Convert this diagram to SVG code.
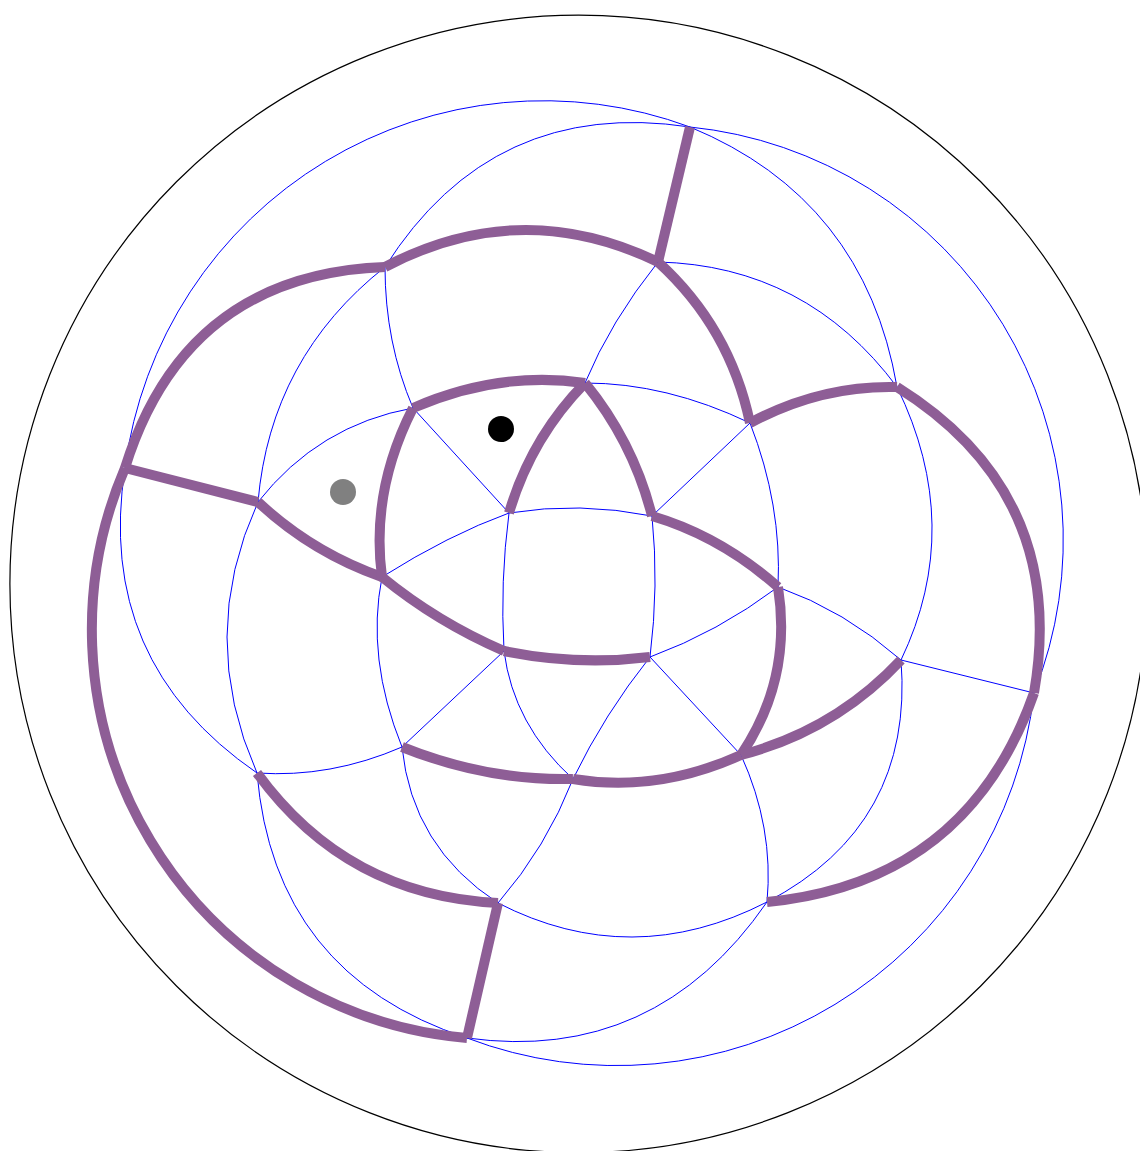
<svg xmlns="http://www.w3.org/2000/svg" width="1140" height="1151" viewBox="0 0 1140 1151">
<style>
.bd{fill:none;stroke:#000000;stroke-width:1.2}
.bl{fill:none;stroke:#0000ff;stroke-width:1}
.pu{fill:none;stroke:#8e5e96;stroke-width:10;stroke-linecap:butt}
</style>
<rect width="1140" height="1151" fill="#ffffff"/>
<circle id="boundary" class="bd" cx="578.6" cy="583.9" r="568.7"/>
<g id="blue-edges">
<path class="bl" d="M125,468 A422,422 0 0 1 690,127"/>
<path class="bl" d="M690,127 A415,415 0 0 1 1034,693"/>
<path class="bl" d="M467,1038 A420,420 0 0 0 1034,693"/>
<path class="bl" d="M509,513 Q579.5,501.5 652,516"/>
<path class="bl" d="M652,516 Q659,585.5 650,657"/>
<path class="bl" d="M504,651 Q500,581.5 509,513"/>
<path class="bl" d="M509,513 L413,408"/>
<path class="bl" d="M652,516 L750,423"/>
<path class="bl" d="M650,657 L741,755"/>
<path class="bl" d="M504,651 L402,747"/>
<path class="bl" d="M509,513 Q448.5,535 382,577"/>
<path class="bl" d="M585,383 Q666.5,383 750,423"/>
<path class="bl" d="M585,383 Q610.5,321.5 658,262"/>
<path class="bl" d="M650,657 Q718,632 778,587"/>
<path class="bl" d="M778,587 Q844.5,610.5 901,660"/>
<path class="bl" d="M750,423 Q782,505 778,587"/>
<path class="bl" d="M658,262 Q806.5,265.5 897,387"/>
<path class="bl" d="M897,387 Q965,526.5 901,660"/>
<path class="bl" d="M690,127 Q864.5,199 897,387"/>
<path class="bl" d="M385,267 Q492.5,97 690,127"/>
<path class="bl" d="M125,468 Q95,661.5 257,773"/>
<path class="bl" d="M385,267 Q270.5,357.5 258,502"/>
<path class="bl" d="M258,502 Q196.5,636.5 257,773"/>
<path class="bl" d="M413,408 Q385,342.5 385,267"/>
<path class="bl" d="M413,408 Q318.5,425 258,502"/>
<path class="bl" d="M382,577 Q366,658 402,747"/>
<path class="bl" d="M402,747 Q330.5,778 257,773"/>
<path class="bl" d="M402,747 Q412,847 498,903"/>
<path class="bl" d="M573,779 Q546.5,847 498,903"/>
<path class="bl" d="M257,773 Q274,974.5 467,1038"/>
<path class="bl" d="M498,903 Q631.5,971.5 767,902"/>
<path class="bl" d="M573,779 Q604.5,714 650,657"/>
<path class="bl" d="M504,651 Q513.5,725 573,779"/>
<path class="bl" d="M741,755 Q774,827.5 767,902"/>
<path class="bl" d="M901,660 Q914,825 767,902"/>
<path class="bl" d="M901,660 L1034,693"/>
<path class="bl" d="M467,1038 Q655,1064 767,902"/>
</g>
<g id="purple-edges">
<path class="pu" d="M690,127 L658,262"/>
<path class="pu" d="M658,262 Q520.5,195.5 385,267"/>
<path class="pu" d="M658,262 Q730,327.5 750,423"/>
<path class="pu" d="M750,423 Q820.5,385 897,387"/>
<path class="pu" d="M897,387 Q1068.5,494 1034,693"/>
<path class="pu" d="M1034,693 Q967.5,882.5 767,902"/>
<path class="pu" d="M385,267 Q185,274.5 125,468"/>
<path class="pu" d="M125,468 L258,502"/>
<path class="pu" d="M258,502 Q312,552.5 382,577"/>
<path class="pu" d="M382,577 Q370.5,491.5 413,408"/>
<path class="pu" d="M413,408 Q499,370.5 585,383"/>
<path class="pu" d="M585,383 Q531,438 509,513"/>
<path class="pu" d="M585,383 Q633.5,442.5 652,516"/>
<path class="pu" d="M652,516 Q721,536.5 778,587"/>
<path class="pu" d="M778,587 Q792.5,679 741,755"/>
<path class="pu" d="M741,755 Q835,730.5 901,660"/>
<path class="pu" d="M382,577 Q437,622 504,651"/>
<path class="pu" d="M504,651 Q577,666 650,657"/>
<path class="pu" d="M402,747 Q486.5,781 573,779"/>
<path class="pu" d="M573,779 Q657,793 741,755"/>
<path class="pu" d="M257,773 Q346.5,896 498,903"/>
<path class="pu" d="M498,903 L467,1038"/>
<path class="pu" d="M125,468 A410,410 0 0 0 467,1038"/>
</g>
<g id="markers">
<circle id="black-dot" cx="501" cy="429" r="13" fill="#000000"/>
<circle id="gray-dot" cx="343" cy="492" r="13" fill="#808080"/>
</g>
</svg>
